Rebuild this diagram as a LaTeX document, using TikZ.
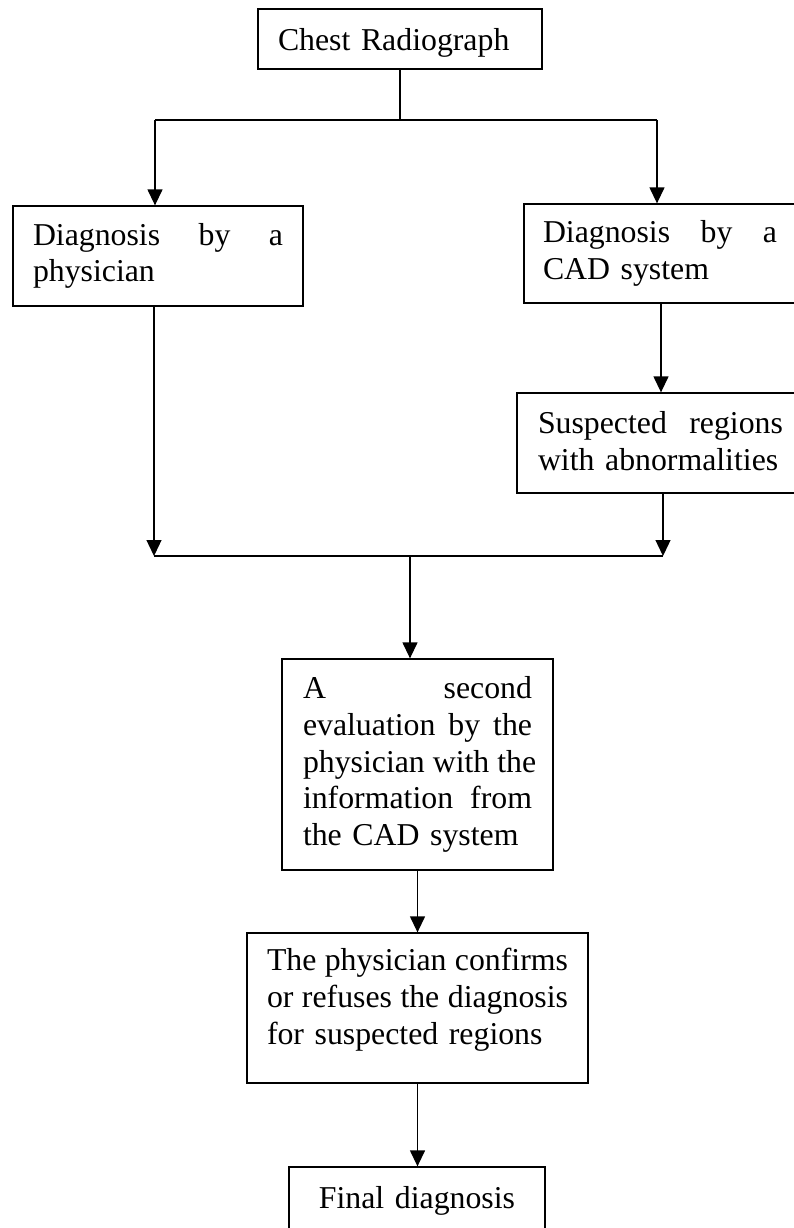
\documentclass[tikz,border=0pt]{standalone}
\usepackage{fontspec}
\setmainfont{Liberation Serif}
\usetikzlibrary{arrows.meta}

% one line of a justified paragraph: the word spaces share the leftover width
\newcommand{\jline}[2]{\leavevmode\hbox to #1{\spaceskip=0.25em plus 1fil\relax #2}}

\begin{document}
\begin{tikzpicture}[x=1pt, y=-1pt,
  box/.style={draw, line width=1.3pt, rectangle, inner xsep=0pt, inner ysep=0pt,
    font=\fontsize{31.8}{36.6}\selectfont, align=left,
    text height=22pt, text depth=7pt},
  twolines/.style={text depth=43.6pt},
  conn/.style={line width=1.3pt},
  bar/.style={line width=2pt},
  arr/.style={line width=1.3pt, -{Triangle[length=16pt, width=15pt]}}]

\useasboundingbox (0,0) rectangle (794,1228);
\clip (0,0) rectangle (794,1228);

% process boxes
\node[box, minimum width=284pt, minimum height=60pt, text width=244pt, text height=30pt]
  (chest) at (400,39) {Chest Radiograph};
\node[box, twolines, minimum width=290pt, minimum height=100pt, text width=250pt]
  (phys) at (158,256) {\jline{250pt}{Diagnosis by a}\\physician};
\node[box, twolines, minimum width=272pt, minimum height=99pt, text width=234pt]
  (cad) at (660,253.5) {\jline{234pt}{Diagnosis by a}\\CAD system};
\node[box, twolines, minimum width=287pt, minimum height=100pt, text width=245pt, text depth=41pt]
  (susp) at (660.5,443) {\jline{245pt}{Suspected regions}\\with abnormalities};
\node[box, minimum width=271pt, minimum height=211pt, text width=229pt, text depth=153.4pt]
  (eval) at (417.5,764.5) {\jline{229pt}{A second}\\\jline{229pt}{evaluation by the}\\\jline{229pt}{physician with the}\\\jline{229pt}{information from}\\the CAD system};
\node[box, minimum width=341pt, minimum height=150pt, text width=301pt, text depth=96.2pt]
  (confirm) at (417.5,1008) {\jline{301pt}{The physician confirms}\\\jline{301pt}{or refuses the diagnosis}\\for suspected regions};
\node[box, minimum width=256pt, minimum height=67pt, text width=216pt, align=center]
  (final) at (417,1200.5) {Final diagnosis};

% junction points
\coordinate (tL) at (155,120);
\coordinate (tR) at (657,120);
\coordinate (bL) at (154,556);
\coordinate (bR) at (663,556);
\coordinate (bM) at (410,556);

% split after the radiograph
\draw[conn] (chest.south) -- (chest.south |- tL);
\draw[bar] (tL) -- (tR);
\draw[arr] (tL) -- (tL |- phys.north);
\draw[arr] (tR) -- (tR |- cad.north);

% CAD branch
\draw[arr] ([xshift=1pt]cad.south) -- ([xshift=1pt]cad.south |- susp.north);

% merge of both branches
\draw[arr] (phys.south -| bL) -- (bL);
\draw[arr] (susp.south -| bR) -- (bR);
\draw[bar] (bL) -- (bR);
\draw[arr] (bM) -- (bM |- eval.north);

% final steps
\draw[arr] (eval.south) -- (eval.south |- confirm.north);
\draw[arr] (confirm.south) -- (confirm.south |- final.north);
\end{tikzpicture}
\end{document}
